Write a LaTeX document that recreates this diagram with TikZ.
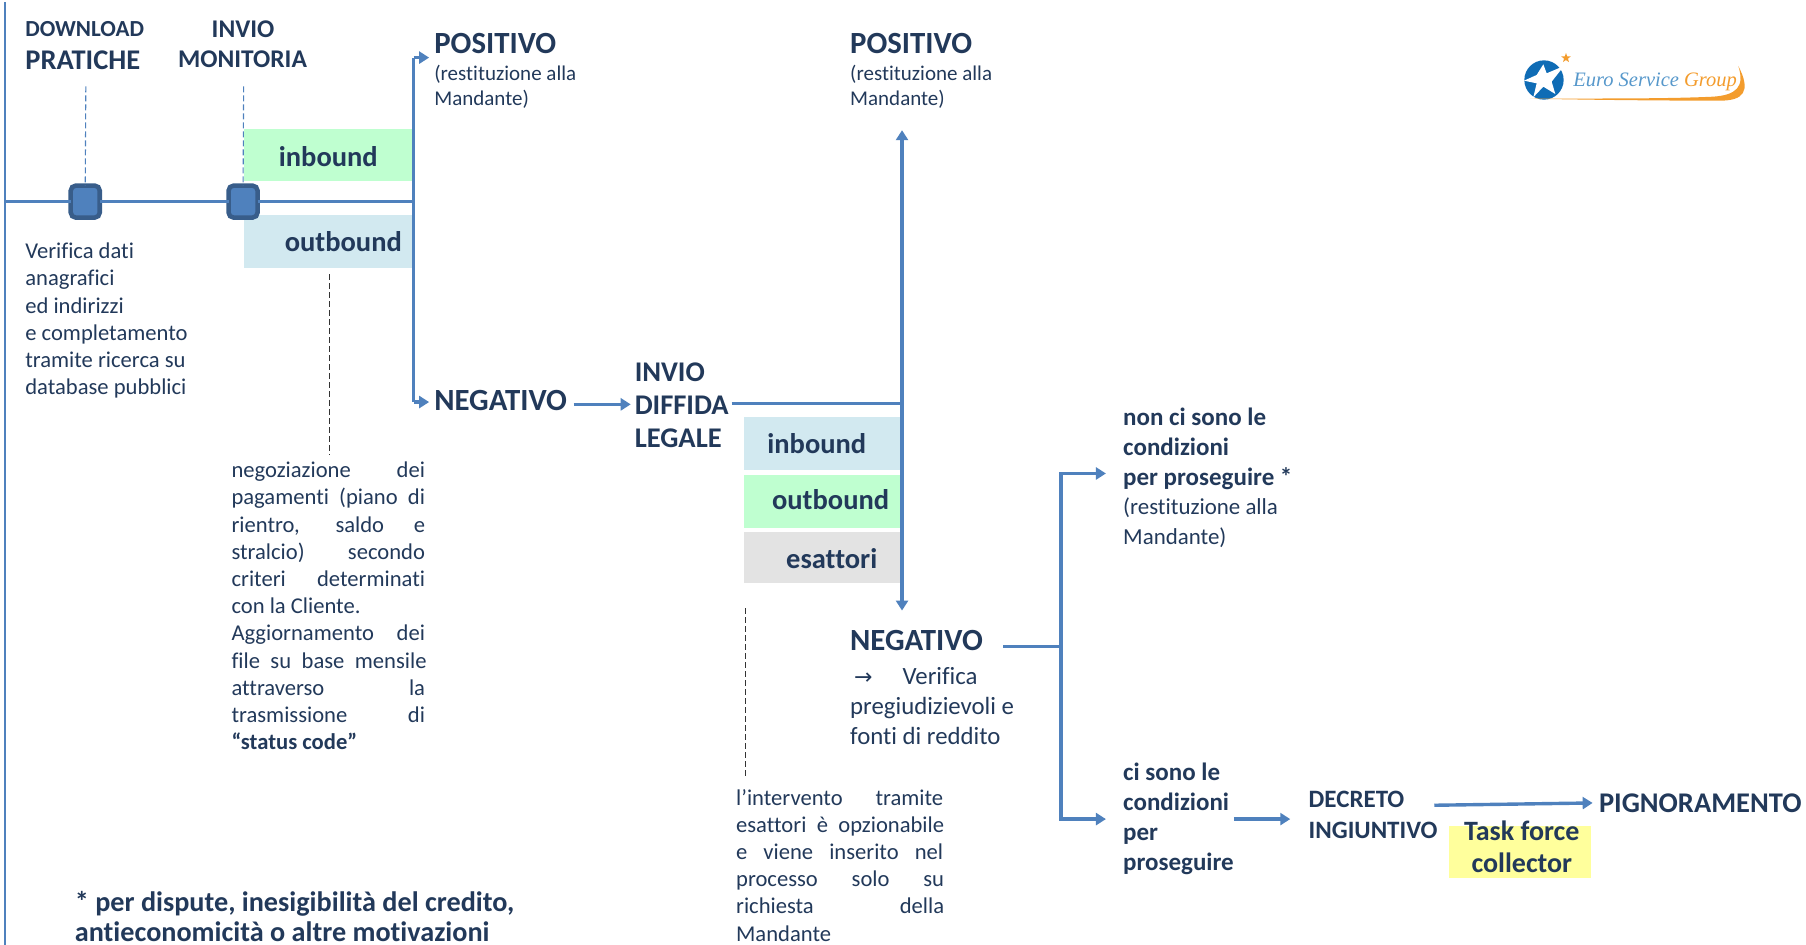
\documentclass[tikz,border=0pt]{standalone}
\usepackage{fontspec}
\setmainfont[Ligatures=NoCommon]{Carlito}
\newfontfamily\logofont{Liberation Serif}
\usetikzlibrary{arrows.meta,shapes.geometric}
\definecolor{lineblue}{HTML}{4F81BD}
\definecolor{sqedge}{HTML}{385D8A}
\definecolor{txt}{HTML}{22395A}
\definecolor{mint}{HTML}{BFFFD0}
\definecolor{pale}{HTML}{D2E9F0}
\definecolor{greybox}{HTML}{E3E3E3}
\definecolor{yell}{HTML}{FFFF9C}
\definecolor{logoblue}{HTML}{0F6CB5}
\definecolor{logoorange}{HTML}{F39C2D}
\newcommand{\jl}[2]{\makebox[#1][s]{#2}}
\tikzset{
  x=1.152pt,y=-1.152pt,
  every node/.style={inner sep=0pt,outer sep=0pt,text=txt},
  flow/.style={draw=lineblue,line width=3.4pt},
  flowarrow/.style={flow,-{Triangle[length=10pt,width=12pt]}},
  guide/.style={draw=lineblue,line width=1.1pt,dash pattern=on 6pt off 3pt},
  darkguide/.style={draw=black!80,line width=1.1pt,dash pattern=on 6pt off 3pt},
  marker/.style={draw=sqedge,fill=lineblue,line width=4.5pt,rounded corners=5pt,minimum width=29pt,minimum height=32pt},
  band/.style={anchor=center,font=\fontsize{28.5}{30}\bfseries\selectfont},
  head/.style={anchor=west,font=\fontsize{30.8}{32}\bfseries\selectfont},
  note/.style={anchor=north west,align=left,font=\fontsize{22.6}{27.2}\selectfont},
  small/.style={anchor=north west,align=left,font=\fontsize{21}{25}\selectfont},
  cond/.style={anchor=north west,align=left,font=\fontsize{25}{30}\selectfont},
}
\begin{document}
\begin{tikzpicture}
\useasboundingbox (0,0) rectangle (1567.7,820.3);
% colour bands
\fill[mint] (212,112) rectangle (358,157);
\fill[pale] (212,187) rectangle (358,233);
\fill[pale] (646,362) rectangle (782,408);
\fill[mint] (646,412) rectangle (782,458);
\fill[greybox] (646,462) rectangle (782,506);
\fill[yell] (1258,717) rectangle (1381,762);
% left edge
\coordinate (edgeT) at (4.5,2);
\coordinate (edgeB) at (4.5,820);
\draw[draw=lineblue,line width=1.6pt] (edgeT) -- (edgeB);
% text nodes
\node[anchor=west,font=\fontsize{23}{26}\bfseries\selectfont] (dl) at (22,25) {DOWNLOAD};
\node[anchor=west,font=\fontsize{28.5}{30}\bfseries\selectfont] (pr) at (22,52) {PRATICHE};
\node[font=\fontsize{25.5}{28}\bfseries\selectfont] (inv) at (211,25) {INVIO};
\node[font=\fontsize{25.5}{28}\bfseries\selectfont] (mon) at (210.5,51) {MONITORIA};
\coordinate (g1t) at (74.5,75);
\coordinate (g2t) at (211.5,75);
\coordinate (start) at (4.5,175);
\coordinate (mid) at (359,175);
\node[marker] (m1) at (74,175) {};
\node[marker] (m2) at (211,175) {};
\draw[guide] (g1t) -- (m1.north);
\draw[guide] (g2t) -- (m2.north);
\draw[flow] (start) -- (m1);
\draw[flow] (m1) -- (m2);
\draw[flow] (m2) -- (mid);
\node[band] (ib1) at (285,136) {inbound};
\node[band] (ob1) at (298,210) {outbound};
\node[note] (verif) at (22,211) {Verifica dati\\anagrafici\\ed indirizzi\\e completamento\\tramite ricerca su\\database pubblici};
\node[head] (pos1) at (377,38) {POSITIVO};
\node[small] (rest1) at (377,56.5) {(restituzione alla\\Mandante)};
\node[head] (neg1) at (377,348) {NEGATIVO};
\coordinate (a1t) at (359,50);
\coordinate (a1b) at (359,349);
\coordinate (tip1) at (372.5,50);
\coordinate (tip2) at (372.5,349);
\draw[flow] (a1t) -- (a1b);
\draw[flowarrow] (a1t) -- (tip1);
\draw[flowarrow] (a1b) -- (tip2);
\coordinate (g3t) at (286,238);
\node[note] (nego) at (201,401) {%
\jl{193.5pt}{negoziazione dei}\\
\jl{193.5pt}{pagamenti (piano di}\\
\jl{193.5pt}{rientro, saldo e}\\
\jl{193.5pt}{stralcio) secondo}\\
\jl{193.5pt}{criteri determinati}\\
con la Cliente.\\
\jl{193.5pt}{Aggiornamento dei}\\
\jl{195pt}{file su base mensile}\\
\jl{193.5pt}{attraverso la}\\
\jl{193.5pt}{trasmissione di}\\
\textbf{“status code”}};
\coordinate (g3b) at (286,395);
\draw[darkguide] (g3t) -- (g3b);
\node[anchor=west,align=left,font=\fontsize{28.5}{33}\bfseries\selectfont] (diff) at (551,351.5) {INVIO\\DIFFIDA\\LEGALE};
\coordinate (neg1out) at (498,351);
\coordinate (diffin) at (547.5,351);
\draw[flowarrow] (neg1out) -- (diffin);
\coordinate (j) at (783,350);
\coordinate (diffout) at (635,350);
\draw[flow] (diffout) -- (j);
\node[head] (pos2) at (738,38) {POSITIVO};
\node[small] (rest2) at (738,56.5) {(restituzione alla\\Mandante)};
\coordinate (upend) at (783,113);
\coordinate (downend) at (783,530);
\draw[flowarrow] (j) -- (upend);
\draw[flowarrow] (j) -- (downend);
\node[band] (ib2) at (709,385) {inbound};
\node[band] (ob2) at (721,434) {outbound};
\node[band] (es) at (722,485) {esattori};
\coordinate (g4t) at (647,528);
\coordinate (g4b) at (647,675);
\draw[darkguide] (g4t) -- (g4b);
\node[note] (esnote) at (639,685) {%
\jl{207pt}{l’intervento tramite}\\
\jl{208pt}{esattori è opzionabile}\\
\jl{207pt}{e viene inserito nel}\\
\jl{208pt}{processo solo su}\\
\jl{208pt}{richiesta della}\\
Mandante};
\node[head] (neg2) at (738,556) {NEGATIVO};
\node[anchor=north west,align=left,font=\fontsize{24.8}{30}\selectfont] (neg2t) at (738,579) {\hspace{4pt}{\fontspec{DejaVu Sans}\fontsize{22}{30}\selectfont →}\hspace{30pt}Verifica\\pregiudizievoli e\\fonti di reddito};
\coordinate (j2) at (921,561);
\coordinate (n2out) at (871,561);
\draw[flow] (n2out) -- (j2);
\coordinate (btend) at (960,411);
\coordinate (bbend) at (960,711);
\draw[flowarrow] (j2) |- (btend);
\draw[flowarrow] (j2) |- (bbend);
\node[cond] (non) at (975,354) {\textbf{non ci sono le}\\\textbf{condizioni}\\\textbf{per proseguire *}\\[-1pt]{\fontsize{22.9}{25}\selectfont (restituzione alla}\\{\fontsize{22.9}{25}\selectfont Mandante)}};
\node[cond] (ci) at (975,662) {\textbf{ci sono le}\\\textbf{condizioni}\\\textbf{per}\\\textbf{proseguire}};
\coordinate (c1) at (1071,711);
\coordinate (c2) at (1120,711);
\draw[flowarrow] (c1) -- (c2);
\node[anchor=north west,align=left,font=\fontsize{25}{31}\selectfont] (dec) at (1136,687) {\textbf{DECRETO}\\\textbf{INGIUNTIVO}};
\node[anchor=west,font=\fontsize{28.5}{32}\bfseries\selectfont] (pig) at (1388,697) {PIGNORAMENTO};
\coordinate (d1) at (1245,699);
\coordinate (d2) at (1382.5,697);
\draw[flowarrow] (d1) -- (d2);
\node[align=center,anchor=center,font=\fontsize{28}{32}\bfseries\selectfont] (task) at (1321,735) {Task force\\collector};
\node[anchor=north west,align=left,font=\fontsize{28.2}{30}\bfseries\selectfont] (foot) at (65,774) {* per dispute, inesigibilità del credito,\\antieconomicità o altre motivazioni};
% logo
\begin{scope}[shift={(1284.7,26.04)},x=.3333pt,y=-.3333pt]
\fill[logoblue] (192,150) circle (59);
\fill[white] (190,103) -- (200,130) -- (252,108) -- (215,155) -- (226,192) -- (190,170) -- (160,202) -- (170,160) -- (132,152) -- (170,135) -- cycle;
\fill[logoorange] (150,206) .. controls (350,205) and (550,207) .. (700,200) .. controls (770,195) and (795,170) .. (775,108) .. controls (815,185) and (790,212) .. (720,212) .. controls (550,212) and (350,210) .. (150,206) -- cycle;
\node[star,star points=5,star point ratio=2.4,fill=logoorange,minimum size=10pt] (logostar) at (258,84) {};
\node[anchor=west,font=\logofont\itshape\fontsize{20.5}{24}\selectfont,text=logoblue!70] (logotxt) at (280,155) {Euro Service \textcolor{logoorange}{Group}};
\end{scope}
\end{tikzpicture}
\end{document}
